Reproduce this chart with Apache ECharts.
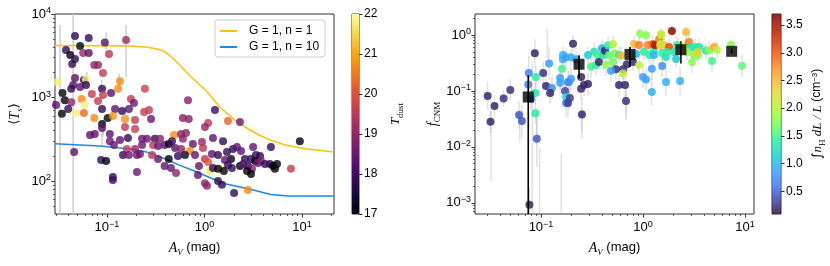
<!DOCTYPE html>
<html><head><meta charset="utf-8">
<script src="https://cdn.jsdelivr.net/npm/echarts@6/dist/echarts.min.js"></script>
<style>html,body{margin:0;padding:0;background:#fff}#c{width:830px;height:266px}</style>
</head><body><div id="c"></div>
<script>
// ---------------- DATA ----------------
// Left panel: [A_V (mag), <T_s> (K), T_dust]
const leftPoints = [
[0.047,5460,17.8],[0.065,5170,17.8],[0.095,4550,18.3],[0.157,4890,19.1],[0.053,4140,17.1],
[0.038,3710,17.8],[0.042,3230,17.1],[0.057,3410,19.0],[0.065,3410,18.3],[0.105,3330,19.4],
[0.044,2520,17.8],[0.047,2890,17.8],[0.074,2450,19.0],[0.081,2450,19.0],[0.091,1960,19.6],
[0.047,1710,18.3],[0.058,1620,17.8],[0.061,1660,21.8],[0.031,1530,21.8],[0.045,1410,18.3],
[0.043,1270,17.8],[0.053,1340,18.3],[0.061,1410,17.8],[0.089,1270,17.8],[0.136,1570,20.7],
[0.130,1270,20.7],[0.110,1130,18.3],[0.070,1100,19.6],[0.091,1070,19.6],[0.035,1130,17.1],
[0.037,930,17.1],[0.055,960,20.7],[0.081,908,19.6],[0.030,813,18.3],[0.043,880,19.0],
[0.059,813,21.8],[0.040,728,17.8],[0.089,728,17.8],[0.176,960,19.6],[0.189,859,18.5],
[0.245,1270,19.7],[0.121,728,18.3],[0.143,689,17.8],[0.168,728,18.3],[0.048,652,21.8],
[0.058,652,20.3],[0.0345,640,17.1],[0.102,568,17.1],[0.089,482,17.1],[0.074,568,20.7],
[0.153,553,20.7],[0.115,600,20.8],[0.194,538,19.6],[0.240,670,19.6],[0.089,432,18.3],
[0.153,444,19.6],[0.194,420,19.6],[0.075,366,18.3],[0.067,356,18.3],[0.107,366,18.3],
[0.107,300,18.5],[0.136,310,18.3],[0.164,328,17.8],[0.229,320,18.5],[0.118,270,18.5],
[0.160,241,19.6],[0.194,241,19.0],[0.229,270,18.5],[0.146,205,17.8],[0.168,205,18.5],
[0.203,205,18.5],[0.218,210,18.5],[0.046,222,18.3],[0.087,178,17.8],[0.098,174,17.1],
[0.203,128,18.5],[0.115,112,17.9],[0.115,103,17.9],
[0.27,710,19.6],[0.283,553,18.5],[0.677,930,18.8],[1.28,710,17.9],[0.60,568,18.8],
[0.69,553,18.8],[1.09,495,19.6],[1.01,444,19.0],[1.74,522,20.2],[2.31,509,18.6],
[0.257,320,18.5],[0.31,320,17.8],[0.35,320,18.9],[0.487,356,20.7],[0.575,366,18.9],
[0.646,376,18.9],[0.60,320,18.9],[0.76,277,18.4],[0.942,293,19.0],[1.22,328,18.3],
[1.55,300,17.8],[0.297,270,19.5],[0.334,262,18.4],[0.39,270,18.3],[0.43,277,17.2],
[0.464,300,17.8],[0.50,248,18.3],[0.575,241,18.9],[0.965,248,19.5],[0.71,228,20.7],
[0.63,205,17.2],[0.535,199,17.8],[0.43,184,17.1],[0.334,184,18.4],[0.29,205,19.5],
[0.80,205,18.4],[1.19,210,18.3],[1.375,205,17.8],[1.70,222,17.8],[1.96,241,17.8],
[2.15,255,18.3],[1.87,184,17.2],[1.62,178,18.3],[1.01,184,19.5],[1.09,169,20.1],
[0.878,151,18.4],[1.51,140,21.7],[1.14,132,21.7],[1.22,143,17.8],[1.375,140,17.1],[1.58,132,17.1],
[1.91,143,17.8],[1.74,155,17.8],[0.39,151,18.4],[0.453,143,18.4],[0.51,125,18.9],
[0.857,118,18.4],[1.375,100,17.8],[1.51,90,17.8],[1.01,94,18.9],[1.06,88,18.9],
[2.01,72,17.8],
[9.5,300,17.1],[4.8,255,17.8],[3.15,255,18.3],[2.37,228,18.3],[2.6,184,17.8],
[3.0,184,17.8],[3.37,205,17.8],[3.71,199,17.8],[3.3,174,17.1],[3.54,164,18.3],
[2.31,151,17.1],[2.79,151,17.8],[3.07,140,18.8],[3.8,174,18.8],[4.17,160,17.8],
[4.69,160,17.8],[5.04,151,17.1],[5.54,160,17.1],[5.28,140,17.1],[2.73,132,17.1],
[3.0,121,17.1],[7.7,140,19.6],[2.79,78,20.7],[2.49,160,18.3]
];
// Left panel error bars: [A_V, low, high]
const leftErrors = [
[0.033,30,7400],[0.045,30,12000],[0.157,1770,7370],[0.062,1330,2030],[0.092,340,580],
[0.098,3700,6100],[0.088,940,1620],[0.133,1220,1930],[0.089,270,470]
];
// Model curves
const modelN1Av = [0.0293,0.0848,0.172,0.245,0.31,0.367,0.422,0.498,0.71,1.06,1.44,2.10,2.93,3.71,4.80,6.7,10.7,21.3];
const modelN1Ts = [4200,4170,4140,4030,3870,3660,3320,2790,1810,1180,759,524,408,351,307,270,244,222];
const modelN10Av = [0.0293,0.0848,0.172,0.257,0.393,0.535,0.80,1.19,1.62,2.31,3.30,4.80,7.2,21.3];
const modelN10Ts = [280,262,242,222,185,157,131,107,93,85,77,69,66,66];
const seriesNames = ['G = 1, n = 1','G = 1, n = 10'];

// Right panel: [A_V, f_CNM, mean n_H, error half-width (dex)]
const rightPoints = [
[0.030,0.081,0.2,0.25],[0.035,0.054,0.2,0.2],[0.032,0.028,0.2,0.2],[0.043,0.073,0.25,0.15],[0.050,0.104,0.25,0.2],
[0.061,0.037,0.45,0.25],[0.065,0.029,0.45,0.3],[0.076,0.21,0.7,0.3],[0.075,0.13,0.7,0.2],[0.087,0.47,0.2,0.25],
[0.089,0.178,1.4,0.2],[0.088,0.092,1.3,0.2],[0.088,0.040,1.4,0.2],[0.080,0.072,0.65,0.2],[0.091,0.0139,0.45,0.5],
[0.077,0.00092,0.2,0.3],[0.105,0.21,0.25,0.2],[0.12,0.31,0.85,0.3],[0.112,0.123,0.2,0.2],[0.128,0.113,0.75,0.2],
[0.123,0.092,0.2,0.2],[0.154,0.17,0.85,0.2],[0.154,0.14,0.85,0.2],[0.164,0.37,0.95,0.15],[0.161,0.25,1.5,0.15],
[0.172,0.1,0.35,0.2],[0.176,0.078,1.2,0.2],[0.176,0.061,0.65,0.25],[0.188,0.145,0.85,0.2],[0.164,0.44,0.95,0.15],
[0.206,0.70,0.2,0.15],[0.176,0.40,0.85,0.15],[0.197,0.40,0.95,0.15],[0.220,0.37,0.85,0.2],[0.197,0.165,0.85,0.2],
[0.184,0.145,0.75,0.2],[0.192,0.075,0.3,0.2],[0.184,0.061,0.3,0.25],[0.247,0.178,0.2,0.2],[0.247,0.109,0.2,0.2],
[0.264,0.128,0.2,0.2],[0.289,0.133,0.2,0.2],[0.252,0.038,0.2,0.3],[0.289,0.44,1.1,0.15],[0.309,0.27,1.5,0.2],
[0.331,0.50,1.3,0.15],[0.346,0.29,1.4,0.2],[0.362,0.44,1.5,0.15],[0.370,0.33,0.2,0.15],[0.397,0.58,0.9,0.15],
[0.406,0.44,1.3,0.15],[0.424,0.52,0.2,0.15],[0.454,0.65,1.4,0.15],[0.464,0.44,1.6,0.15],[0.508,0.69,2.0,0.15],
[0.508,0.33,1.7,0.2],[0.531,0.47,1.8,0.15],[0.543,0.245,0.25,0.2],[0.485,0.23,0.85,0.2],[0.433,0.295,1.8,0.2],
[0.582,0.44,1.4,0.15],[0.608,0.43,2.5,0.15],[0.637,0.245,0.25,0.2],[0.637,0.205,2.1,0.2],[0.582,0.127,0.2,0.2],
[0.667,0.127,0.2,0.25],[0.681,0.066,0.25,0.25],[0.697,0.30,0.2,0.15],[0.798,0.33,0.2,0.15],[0.816,0.69,2.5,0.15],
[0.854,0.458,0.95,0.15],[0.914,0.663,2.8,0.15],[0.914,0.29,2.1,0.2],[1.00,0.178,0.85,0.2],[1.07,0.16,0.85,0.2],
[0.935,1.06,1.8,0.1],[1.07,0.99,1.8,0.1],[1.02,0.5,1.4,0.15],[1.15,0.44,1.4,0.15],[1.12,0.663,2.8,0.15],
[1.25,0.69,3.0,0.15],[1.28,0.52,1.4,0.15],[1.28,0.44,0.95,0.15],[1.31,0.66,3.5,0.1],[1.44,0.85,2.8,0.1],
[1.50,1.0,2.1,0.1],[1.47,0.66,2.4,0.15],[1.22,0.096,0.95,0.25],[1.22,0.25,0.85,0.2],
[1.92,1.18,3.6,0.1],[2.64,1.13,2.5,0.1],[1.50,1.04,2.1,0.1],[1.50,0.69,2.0,0.15],[1.61,0.663,2.3,0.15],
[1.80,0.611,3.1,0.15],[1.54,0.477,1.4,0.15],[1.54,0.28,0.75,0.2],[1.68,0.145,0.95,0.25],[2.31,0.151,0.95,0.25],
[2.01,0.497,1.3,0.15],[2.11,0.373,1.1,0.15],[1.68,0.405,1.3,0.15],[1.72,0.497,1.4,0.15],[2.15,0.663,1.4,0.15],
[2.64,0.663,1.9,0.15],[2.82,0.75,2.8,0.15],[2.96,0.611,1.3,0.15],[2.70,0.497,1.8,0.15],[3.02,0.33,1.8,0.2],
[3.16,0.44,1.8,0.15],[3.31,0.477,2.1,0.15],[3.46,0.44,1.8,0.15],[3.54,0.611,1.3,0.15],[3.24,0.611,1.4,0.15],
[4.15,0.52,1.3,0.15],[4.44,0.54,1.8,0.15],[4.75,0.343,1.5,0.2],[4.97,0.611,2.6,0.1],[5.31,0.54,2.0,0.15],
[7.29,0.663,1.8,0.1],[9.35,0.279,1.6,0.2],[3.46,0.497,2.3,0.15]
];
// Extra long error bars in right panel: [A_V, low, high]
const rightLongErrors = [
[0.0324,0.0024,0.048],[0.062,0.012,0.045],[0.082,0.0006,0.33],[0.097,0.0006,0.0094],
[0.158,0.0006,0.0076],[0.115,0.38,1.3],[0.091,0.011,0.048],[0.252,0.014,0.048],[0.681,0.030,0.085]
];
// Binned means (black squares)
const binAv = [0.075,0.236,0.745,2.35,7.4];
const binF = [0.078,0.30,0.45,0.546,0.51];
const binLo = [0.0001,0.166,0.268,0.308,0.47];
const binHi = [0.19,0.434,0.61,0.77,0.55];
// Colour bars
const tdustRange = [17,22];
const tdustTicks = [17,18,19,20,21,22];
const nRange = [0.09,3.70];
const nTicks = [0.5,1.0,1.5,2.0,2.5,3.0,3.5];

// ---------------- CHART ----------------
const L = Math.log10;
const inferno = ['#000004','#160b39','#420a68','#6a176e','#932667','#bc3754','#dd513a','#f37819','#fca50a','#f6d746','#fcffa4'];
const turbo = ['#30123b','#4145ab','#4675ed','#39a2fc','#1bcfd4','#24eca6','#61fc6c','#a4fc3b','#d1e834','#f3c63a','#fe9b2d','#f36315','#d93806','#b11901','#7a0402'];
const FONT = 'Liberation Sans', MATH = 'Liberation Serif';
const AX = '#333';

function majors(a,b){const r=[];for(let k=Math.ceil(a);k<=Math.floor(b);k++)r.push(k);return r;}
function minors(a,b){const r=[];for(let k=Math.floor(a);k<=Math.ceil(b);k++)for(let m=2;m<=9;m++){const v=k+L(m);if(v>=a&&v<=b)r.push(v);}return r;}
const powFmt = v => {const n=Math.round(v);return '{b|10}{s|'+(n<0?'\u2212'+(-n):n)+'}';};
const powRich = {
  b:{fontFamily:FONT,fontSize:13,color:'#000',lineHeight:14,padding:[6,0,0,0],verticalAlign:'bottom'},
  s:{fontFamily:FONT,fontSize:9,color:'#000',lineHeight:9,verticalAlign:'top'}
};
function logAxes(grid, min, max, isX, extra){
  const maj = majors(min,max), mn = minors(min,max);
  const base = {gridIndex:grid,type:'value',min:min,max:max,splitLine:{show:false},axisLine:{show:false,onZero:false}};
  const major = Object.assign({}, base, {
    position: isX?'bottom':'left',
    axisTick:{show:true,customValues:maj,length:3.5,lineStyle:{color:AX,width:1}},
    axisLabel:{show:true,customValues:maj,formatter:powFmt,rich:powRich,margin:isX?6:4,
      padding:isX?[0,0,0,0]:[0,0,1,0]}
  }, extra||{});
  const minor = Object.assign({}, base, {
    position: isX?'bottom':'left',
    axisTick:{show:true,customValues:mn,length:2,lineStyle:{color:AX,width:0.8}},
    axisLabel:{show:false}
  });
  return [major, minor];
}
const nameRich = {
  i:{fontFamily:MATH,fontStyle:'italic',fontSize:14,color:'#000',lineHeight:15,verticalAlign:'top'},
  r:{fontFamily:FONT,fontSize:13,color:'#000',lineHeight:15,verticalAlign:'top'},
  m:{fontFamily:'DejaVu Sans',fontSize:13,color:'#000',lineHeight:15,verticalAlign:'top'},
  sub:{fontFamily:MATH,fontSize:9,color:'#000',lineHeight:9,padding:[7,0,0,0],verticalAlign:'top'},
  subi:{fontFamily:MATH,fontStyle:'italic',fontSize:9,color:'#000',lineHeight:9,padding:[7,0,0,0],verticalAlign:'top'},
  sup:{fontFamily:FONT,fontSize:8,color:'#000',lineHeight:8,verticalAlign:'top'},
  ci:{fontFamily:MATH,fontStyle:'italic',fontSize:13,color:'#000',lineHeight:15,verticalAlign:'top'},
  cr:{fontFamily:FONT,fontSize:12,color:'#000',lineHeight:15,verticalAlign:'top'}
};

const LX=[-1.533,1.328], LY=[1.605,4.0], RX=[-1.647,1.088], RY=[-3.2,0.375];
const [lxMaj,lxMin] = logAxes(0,LX[0],LX[1],true,{name:'{i|A}{subi|V}{r| (mag)}',nameLocation:'middle',nameGap:27,nameTextStyle:{rich:nameRich}});
const [lyMaj,lyMin] = logAxes(0,LY[0],LY[1],false,{name:'{m|\u27e8}{i|T}{subi|s}{m|\u27e9}',nameLocation:'middle',nameGap:32,nameTextStyle:{rich:nameRich}});
const [rxMaj,rxMin] = logAxes(2,RX[0],RX[1],true,{name:'{i|A}{subi|V}{r| (mag)}',nameLocation:'middle',nameGap:27,nameTextStyle:{rich:nameRich}});
const [ryMaj,ryMin] = logAxes(2,RY[0],RY[1],false,{name:'{i|f}{sub|CNM}',nameLocation:'middle',nameGap:34,nameTextStyle:{rich:nameRich}});

function cbY(grid, range, ticks, fmt, name){
  return {gridIndex:grid,type:'value',position:'right',min:range[0],max:range[1],
    splitLine:{show:false},axisLine:{show:false,onZero:false},
    axisTick:{show:true,customValues:ticks,length:3.5,lineStyle:{color:AX}},
    axisLabel:{show:true,customValues:ticks,formatter:fmt,margin:5,fontFamily:FONT,fontSize:12,color:'#000'},
    name:name,nameLocation:'middle',nameRotate:90,nameGap:30,nameTextStyle:{rich:nameRich}};
}
function cbX(grid){return {gridIndex:grid,type:'value',min:0,max:1,show:false,axisLine:{onZero:false}};}

function errRender(color,width){
  return function(params,api){
    const x=api.value(0), p1=api.coord([x,api.value(1)]), p2=api.coord([x,api.value(2)]);
    return {type:'line',shape:{x1:p1[0],y1:p1[1],x2:p2[0],y2:p2[1]},style:{stroke:color,lineWidth:width}};
  };
}
function cbRender(stops,opacity){
  return function(params,api){
    const p0=api.coord([0,api.value(2)]), p1=api.coord([1,api.value(1)]);
    return {type:'rect',shape:{x:p0[0],y:p0[1],width:p1[0]-p0[0],height:p1[1]-p0[1]},
      style:{fill:new echarts.graphic.LinearGradient(0,1,0,0,stops.map((c,i)=>({offset:i/(stops.length-1),color:c}))),opacity:opacity}};
  };
}

const leftErrData = leftErrors.map(e=>[L(e[0]),L(e[1]),L(e[2])]);
const rightErrData = rightPoints.map(p=>[L(p[0]),L(p[1])-p[3],L(p[1])+p[3]])
  .concat(rightLongErrors.map(e=>[L(e[0]),L(e[1]),L(e[2])]));
const binErrData = binAv.map((a,i)=>[L(a),L(binLo[i]),L(binHi[i])]);

const option = {
  animation:false,
  backgroundColor:'#fff',
  grid:[
    {left:55,top:14,width:279,height:200,show:true,borderColor:AX,borderWidth:1,backgroundColor:'transparent'},
    {left:352,top:14,width:7,height:200,show:true,borderColor:AX,borderWidth:1,backgroundColor:'transparent'},
    {left:475,top:14,width:279,height:200,show:true,borderColor:AX,borderWidth:1,backgroundColor:'transparent'},
    {left:772,top:14,width:9,height:200,show:true,borderColor:AX,borderWidth:1,backgroundColor:'transparent'}
  ],
  xAxis:[lxMaj,lxMin,cbX(1),rxMaj,rxMin,cbX(3)],
  yAxis:[lyMaj,lyMin,
    cbY(1,tdustRange,tdustTicks,v=>String(v),'{ci|T}{sub|dust}'),
    ryMaj,ryMin,
    cbY(3,nRange,nTicks,v=>v.toFixed(1),'{m|\u222b}{ci|n}{sub|H}{ci| dL / L} {cr|(cm}{sup|\u22123}{cr|)}')],
  legend:{data:seriesNames,left:215,top:20,orient:'vertical',icon:'rect',itemWidth:17,itemHeight:2,itemGap:4,
    padding:[5,6,4,5],borderColor:'#ccc',borderWidth:1,borderRadius:3,backgroundColor:'rgba(255,255,255,0.85)',
    formatter:n=>'{t|'+n+'}',
    textStyle:{fontFamily:FONT,fontSize:12,color:'#000',rich:{t:{fontFamily:FONT,fontSize:12,color:'#000',padding:[0,0,0,7]}}}},
  visualMap:[
    {show:false,type:'continuous',seriesIndex:3,dimension:2,min:tdustRange[0],max:tdustRange[1],inRange:{color:inferno}},
    {show:false,type:'continuous',seriesIndex:6,dimension:2,min:nRange[0],max:nRange[1],inRange:{color:turbo}}
  ],
  series:[
    {type:'custom',xAxisIndex:0,yAxisIndex:0,clip:true,renderItem:errRender('#d0d0d0',1.5),data:leftErrData,z:1},
    {name:seriesNames[0],type:'line',xAxisIndex:0,yAxisIndex:0,symbol:'none',clip:true,
      lineStyle:{color:'#FFC107',width:1.5},itemStyle:{color:'#FFC107'},
      data:modelN1Av.map((a,i)=>[L(a),L(modelN1Ts[i])]),z:2},
    {name:seriesNames[1],type:'line',xAxisIndex:0,yAxisIndex:0,symbol:'none',clip:true,
      lineStyle:{color:'#1E88E5',width:1.5},itemStyle:{color:'#1E88E5'},
      data:modelN10Av.map((a,i)=>[L(a),L(modelN10Ts[i])]),z:2},
    {type:'scatter',xAxisIndex:0,yAxisIndex:0,symbolSize:8,clip:true,
      data:leftPoints.map(p=>[L(p[0]),L(p[1]),p[2]]),z:3},
    {type:'custom',xAxisIndex:2,yAxisIndex:2,renderItem:cbRender(inferno,1),data:[[0,tdustRange[0],tdustRange[1]]],silent:true},
    {type:'custom',xAxisIndex:3,yAxisIndex:3,clip:true,renderItem:errRender('rgba(170,170,170,0.35)',1.5),data:rightErrData,z:1},
    {type:'scatter',xAxisIndex:3,yAxisIndex:3,symbolSize:8,clip:true,itemStyle:{opacity:0.85},
      data:rightPoints.map(p=>[L(p[0]),L(p[1]),p[2]]),z:3},
    {type:'custom',xAxisIndex:3,yAxisIndex:3,clip:true,renderItem:errRender('#000',1.6),data:binErrData,z:4},
    {type:'scatter',xAxisIndex:3,yAxisIndex:3,symbol:'rect',symbolSize:11,clip:true,itemStyle:{color:'#000'},
      data:binAv.map((a,i)=>[L(a),L(binF[i])]),z:5},
    {type:'custom',xAxisIndex:5,yAxisIndex:5,renderItem:cbRender(turbo,0.85),data:[[0,nRange[0],nRange[1]]],silent:true}
  ]
};
const chart = echarts.init(document.getElementById('c'),null,{renderer:'canvas'});
chart.setOption(option);
</script>
</body></html>
